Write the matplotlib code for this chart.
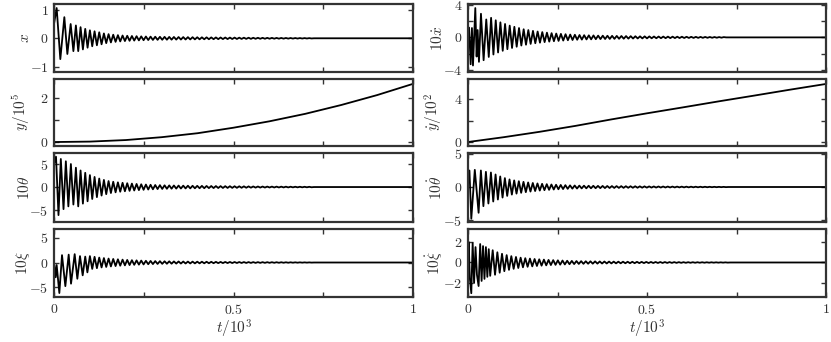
import numpy as np
import matplotlib
matplotlib.use("Agg")
import matplotlib.pyplot as plt

plt.rcParams['font.family'] = 'serif'
plt.rcParams['font.serif'] = ['cmr10', 'DejaVu Serif']
plt.rcParams['mathtext.fontset'] = 'cm'
plt.rcParams['axes.formatter.use_mathtext'] = True

P = 0.013  # oscillation period in t/10^3

x_head_t = [0, 0.0074, 0.0176, 0.0288, 0.0372, 0.0464, 0.054]
x_head_v = [0.5, 1.06, -0.73, 0.74, -0.55, 0.5, -0.45]
x_amp = [0.45, 0.39, 0.33, 0.28, 0.245, 0.21, 0.17, 0.145, 0.125, 0.11, 0.097, 0.088,
         0.08, 0.073, 0.067, 0.062, 0.058, 0.055, 0.052, 0.05, 0.048, 0.046, 0.044,
         0.042, 0.04, 0.038, 0.036, 0.034, 0.033, 0.031, 0.03, 0.028, 0.027, 0.025,
         0.024, 0.022, 0.021, 0.02, 0.018, 0.017, 0.016, 0.015, 0.014, 0.013, 0.012,
         0.011, 0.01, 0.009, 0.008, 0.007, 0.006]

th_head_t = [0, 0.0056, 0.0125, 0.019, 0.0265, 0.033, 0.040, 0.047, 0.054]
th_head_v = [5.0, 6.6, -6.1, 6.1, -4.8, 5.6, -4.2, 5.0, -3.8]
th_amp = [4.2, 3.6, 3.1, 2.6, 2.2, 1.85, 1.55, 1.3, 1.15, 1.02, 0.92, 0.83, 0.75, 0.67,
          0.6, 0.54, 0.49, 0.44, 0.41, 0.38, 0.36, 0.34, 0.32, 0.3, 0.29, 0.27, 0.26,
          0.25, 0.23, 0.22, 0.21, 0.2, 0.19, 0.18, 0.17, 0.16, 0.15, 0.14, 0.13, 0.12,
          0.11, 0.1, 0.095, 0.09, 0.085, 0.08, 0.07, 0.065, 0.06, 0.055, 0.05]

xi_head_t = [0, 0.0046, 0.0074, 0.0149, 0.0223, 0.0316, 0.0409, 0.0474, 0.0576, 0.065,
             0.0724, 0.0799, 0.087, 0.093]
xi_head_v = [0, -3, -0.5, -6.2, 1.5, -4.8, 1.6, -4.3, 1.7, -3.3, 1.3, -2.6, 1.2, -2.0]
xi_amp = [1.3, 1.15, 1.0, 0.9, 0.8, 0.72, 0.65, 0.58, 0.52, 0.47, 0.43, 0.39, 0.35, 0.32,
          0.29, 0.27, 0.25, 0.24, 0.22, 0.21, 0.2, 0.19, 0.18, 0.17, 0.16, 0.15, 0.14,
          0.13, 0.12, 0.115, 0.11, 0.1, 0.095, 0.09, 0.085, 0.08, 0.075, 0.07, 0.065,
          0.06, 0.055, 0.05, 0.045, 0.04, 0.035, 0.03, 0.025, 0.02]

xd_head_t = [0, 0.003, 0.0074, 0.011, 0.0139, 0.0204, 0.0241, 0.0269, 0.0306, 0.0362,
             0.0436, 0.051]
xd_head_v = [1.0, 1.2, -3.3, 1.15, -3.45, 3.6, -2.35, 0.9, -3.0, 2.9, -2.8, 2.2]
xd_amp = [2.4, 2.1, 1.85, 1.65, 1.45, 1.3, 1.15, 1.0, 0.9, 0.8, 0.72, 0.65, 0.58, 0.52,
          0.47, 0.43, 0.39, 0.35, 0.32, 0.29, 0.27, 0.25, 0.24, 0.22, 0.21, 0.2, 0.19,
          0.18, 0.17, 0.16, 0.15, 0.14, 0.13, 0.125, 0.12, 0.11, 0.105, 0.1, 0.095, 0.09,
          0.085, 0.08, 0.075, 0.07, 0.065, 0.06, 0.055, 0.05, 0.045, 0.04, 0.035]

thd_head_t = [0, 0.004, 0.0092, 0.019, 0.0296, 0.036, 0.043, 0.05, 0.057]
thd_head_v = [0.75, 2.5, -4.8, 2.6, -3.9, 2.5, -2.9, 2.3, -2.5]
thd_amp = [2.2, 1.9, 1.6, 1.35, 1.15, 1.0, 0.88, 0.78, 0.69, 0.61, 0.54, 0.48, 0.43,
           0.38, 0.34, 0.31, 0.28, 0.25, 0.23, 0.21, 0.2, 0.19, 0.18, 0.17, 0.16, 0.15,
           0.14, 0.135, 0.13, 0.12, 0.115, 0.11, 0.1, 0.095, 0.09, 0.085, 0.08, 0.075,
           0.07, 0.065, 0.06, 0.056, 0.052, 0.048, 0.044, 0.04, 0.036, 0.032, 0.028,
           0.024, 0.02]

xid_head_t = [0, 0.002, 0.005, 0.0092, 0.013, 0.017, 0.021, 0.025, 0.0296, 0.034, 0.038,
              0.042, 0.046, 0.05, 0.054, 0.058, 0.062]
xid_head_v = [0, 2.0, -1.5, -3.0, 1.9, -2.0, 1.5, -1.2, -2.3, 1.8, -1.8, 1.6, -1.6, 1.5,
              -1.4, 1.3, -1.3]
xid_amp = [1.2, 1.0, 0.85, 0.72, 0.62, 0.54, 0.47, 0.42, 0.38, 0.34, 0.31, 0.28, 0.25,
           0.23, 0.21, 0.19, 0.17, 0.155, 0.14, 0.13, 0.12, 0.115, 0.11, 0.1, 0.095,
           0.09, 0.085, 0.08, 0.076, 0.072, 0.068, 0.064, 0.06, 0.056, 0.052, 0.049,
           0.046, 0.043, 0.04, 0.037, 0.034, 0.031, 0.028, 0.026, 0.024, 0.022, 0.02,
           0.018, 0.016, 0.014, 0.012]

# slowly growing channels, read at t = 0, 0.1, ..., 1
t_slow = [0, 0.1, 0.2, 0.3, 0.4, 0.5, 0.6, 0.7, 0.8, 0.9, 1.0]
y_vals = [0, 0.02, 0.09, 0.22, 0.40, 0.65, 0.94, 1.28, 1.68, 2.13, 2.64]
yd_vals = [0, 0.45, 0.95, 1.5, 2.1, 2.67, 3.22, 3.78, 4.32, 4.87, 5.4]


def osc(head_t, head_v, t0, amp, sign=1):
    # join the transient extrema with the decaying peak/trough sequence
    t = list(head_t)
    v = list(head_v)
    for k, a in enumerate(amp):
        t += [t0 + k * P, t0 + (k + 0.5) * P]
        v += [sign * a, -sign * a]
    t += [t[-1] + 0.5 * P, 1.0]
    v += [0, 0]
    return t, v


panels = [
    # (column, row, data, ylabel, ylim, major ticks, labels)
    (0, 0, osc(x_head_t, x_head_v, 0.061, x_amp), r'$x$', (-1.18, 1.2), [-1, 0, 1], [-1, 0, 1]),
    (0, 1, (t_slow, y_vals), r'$y/10^5$', (-0.18, 2.86), [0, 1, 2], [0, 2]),
    (0, 2, osc(th_head_t, th_head_v, 0.061, th_amp), r'$10\theta$', (-7.6, 7.4), [-5, 0, 5], [-5, 0, 5]),
    (0, 3, osc(xi_head_t, xi_head_v, 0.1, xi_amp), r'$10\xi$', (-7.0, 6.8), [-5, 0, 5], [-5, 0, 5]),
    (1, 0, osc(xd_head_t, xd_head_v, 0.058, xd_amp, -1), r'$10\dot{x}$', (-4.25, 4.1), [-4, -2, 0, 2, 4], [-4, 0, 4]),
    (1, 1, (t_slow, yd_vals), r'$\dot{y}/10^2$', (-0.37, 5.86), [0, 2, 4], [0, 4]),
    (1, 2, osc(thd_head_t, thd_head_v, 0.064, thd_amp), r'$10\dot{\theta}$', (-5.3, 5.15), [-5, 0, 5], [-5, 0, 5]),
    (1, 3, osc(xid_head_t, xid_head_v, 0.069, xid_amp), r'$10\dot{\xi}$', (-3.37, 3.27), [-2, 0, 2], [-2, 0, 2]),
]

W, H = 831, 342
fig = plt.figure(figsize=(W / 100, H / 100), dpi=100)
col_x = [(54, 413), (468, 826)]
row_y = [(4, 72), (79, 146), (153, 222), (229, 297)]
gray = '#333333'

for c, r, (t, v), ylab, ylim, ticks, labeled in panels:
    x0, x1 = col_x[c]
    y0, y1 = row_y[r]
    ax = fig.add_axes([x0 / W, 1 - y1 / H, (x1 - x0) / W, (y1 - y0) / H])
    ax.plot(t, v, color='black', lw=1.3)
    ax.set_xlim(0, 1)
    ax.set_ylim(*ylim)
    ax.set_xticks([0, 0.25, 0.5, 0.75, 1])
    if r == 3:
        ax.set_xticklabels(['$0$', '', '$0.5$', '', '$1$'])
        ax.set_xlabel(r'$t/10^3$', fontsize=11, color=gray)
        ax.xaxis.set_label_coords(0.5, -0.3)
        ax.xaxis.label.set_va('top')
    else:
        ax.set_xticklabels([])
    ax.set_yticks(ticks)
    ax.set_yticklabels([('$%g$' % k if k in labeled else '') for k in ticks])
    ax.set_ylabel(ylab, fontsize=11, color=gray)
    ax.yaxis.set_label_coords(-0.06 if c == 0 else -0.065, 0.5)
    ax.tick_params(direction='in', top=True, right=True, length=3.5, width=1,
                   color=gray, labelcolor=gray, labelsize=10, pad=4)
    for s in ax.spines.values():
        s.set_linewidth(1.6)
        s.set_color(gray)

fig.savefig('out.png', dpi=100)
